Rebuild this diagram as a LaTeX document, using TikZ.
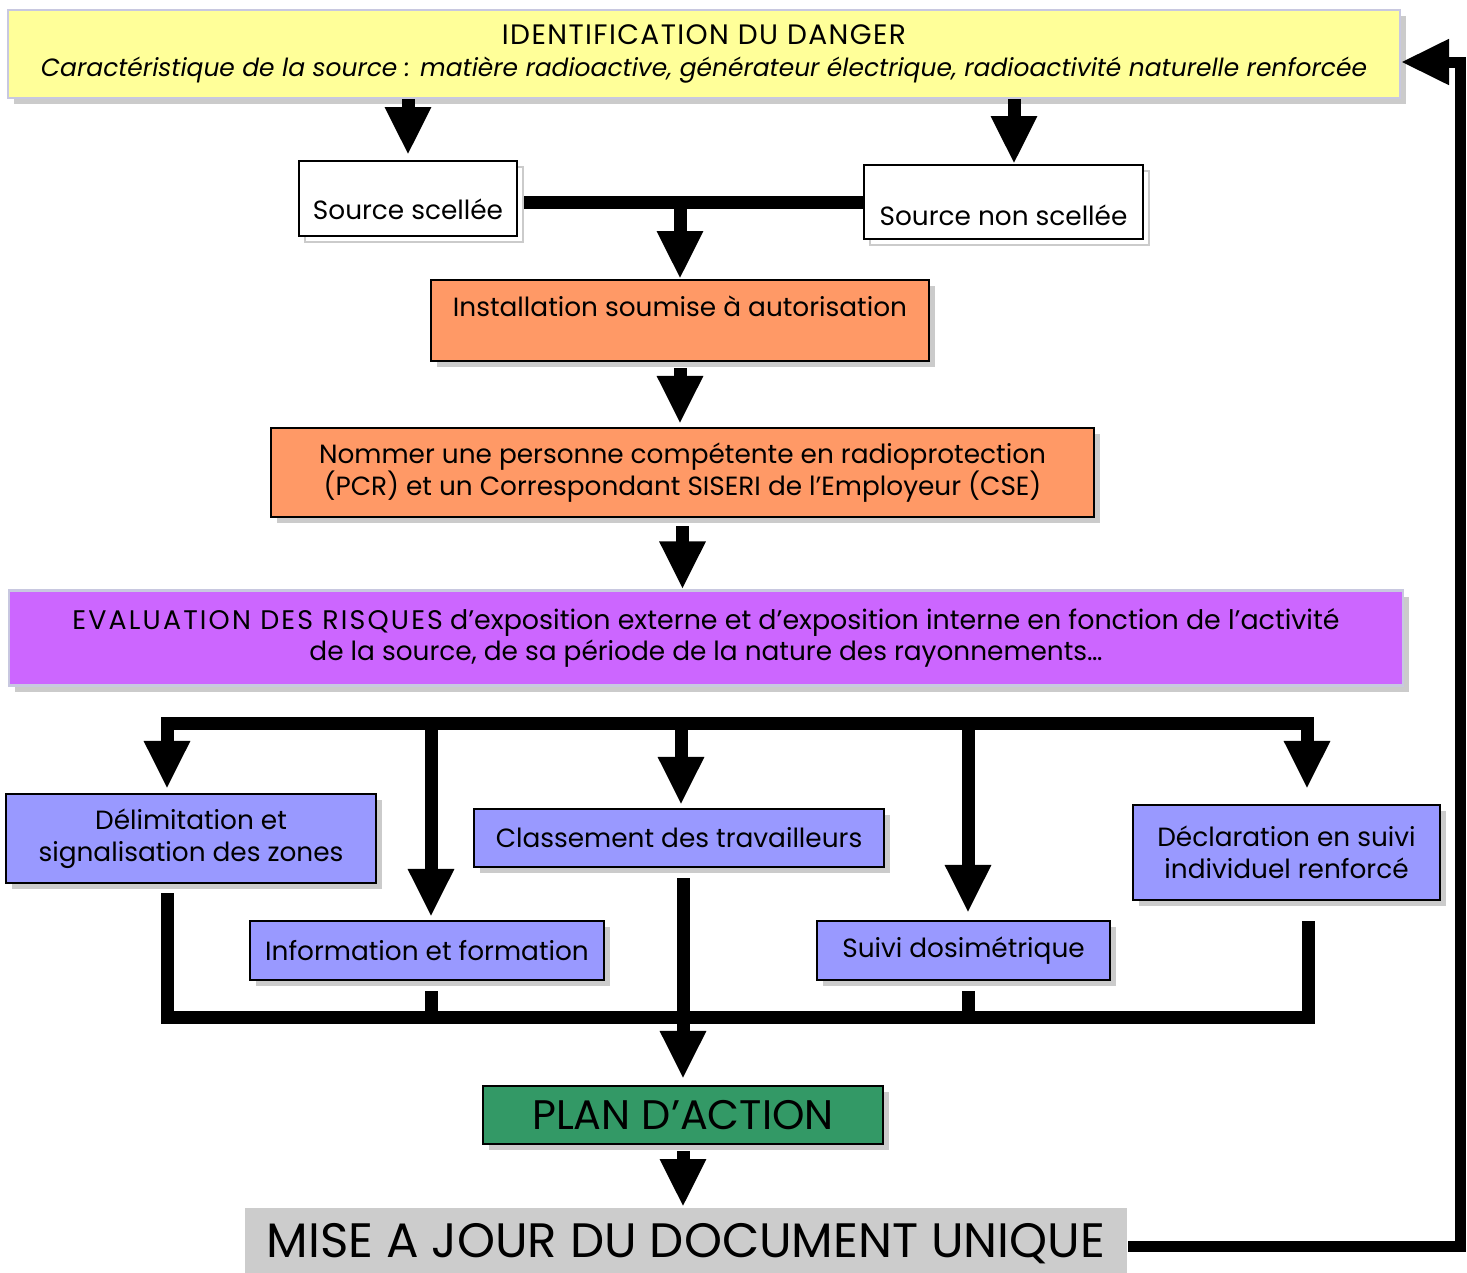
\documentclass[tikz,border=0pt]{standalone}
\usepackage{fontspec}
\setmainfont{Poppins}
\usetikzlibrary{positioning,arrows.meta,shadows}
\definecolor{yellowbox}{HTML}{FFFF99}
\definecolor{orangebox}{HTML}{FF9966}
\definecolor{purplebox}{HTML}{CC66FF}
\definecolor{bluebox}{HTML}{9999FF}
\definecolor{greenbox}{HTML}{339966}
\definecolor{graybox}{HTML}{CCCCCC}
\definecolor{framegray}{HTML}{C8C8E0}
\definecolor{shadowgray}{HTML}{CBCBCB}
\newcommand{\widecaps}[2][5]{{\addfontfeature{LetterSpace=#1}#2}}

\begin{document}
\begin{tikzpicture}[x=0.02cm, y=-0.02cm,
 box/.style={draw, line width=1.3pt, inner sep=0pt, align=center, font=\fontsize{15}{18}\selectfont},
 shade/.style={drop shadow={shadow xshift=0.12cm, shadow yshift=-0.12cm, fill=shadowgray, opacity=1}},
 ghost/.style={general shadow={shadow xshift=0.12cm, shadow yshift=-0.12cm, draw=shadowgray, line width=1pt, fill=white}},
 flow/.style={line width=0.26cm, -{Triangle[width=0.86cm, length=0.96cm]}},
 bus/.style={line width=0.26cm, line cap=rect},
 rise/.style={line width=0.26cm}]
 \useasboundingbox (0,0) rectangle (1467,1272);

 \node[box, fill=yellowbox, draw=framegray, shade, minimum width=27.84cm, minimum height=1.76cm] (danger) at (704,54)
 {\fontsize{16}{18}\selectfont\widecaps{IDENTIFICATION DU DANGER}\\\fontsize{14.2}{18}\selectfont\textit{Caractéristique de la source : matière radioactive, générateur électrique, radioactivité naturelle renforcée}};
 \node[box, fill=white, ghost, minimum width=4.36cm, text height=1.16cm, text depth=0.34cm, anchor=north] (scellee) at (408,160) {Source scellée};
 \node[box, fill=white, ghost, minimum width=5.58cm, text height=1.2cm, text depth=0.28cm, anchor=north] (nonscellee) at (1003.5,164) {Source non scellée};
 \node[box, fill=orangebox, shade, minimum width=9.96cm, text height=0.72cm, text depth=0.9cm, anchor=north] (install) at (680,279) {Installation soumise à autorisation};
 \node[box, fill=orangebox, shade, minimum width=16.46cm, minimum height=1.78cm] (nommer) at (682.5,472.5)
 {Nommer une personne compétente en radioprotection\\(PCR) et un Correspondant SISERI de l’Employeur (CSE)};
 \node[box, fill=purplebox, draw=framegray, shade, minimum width=27.88cm, minimum height=1.9cm] (risques) at (706,638)
 {{\fontsize{15.3}{18}\selectfont\widecaps[8]{EVALUATION DES RISQUES} d’exposition externe et d’exposition interne en fonction de l’activité}\\de la source, de sa période de la nature des rayonnements…};

 \node[box, fill=bluebox, shade, minimum width=7.4cm, minimum height=1.78cm] (delim) at (191,838.5) {Délimitation et\\signalisation des zones};
 \node[box, fill=bluebox, shade, minimum width=7.08cm, minimum height=1.18cm] (info) at (427,950.5) {Information et formation};
 \node[box, fill=bluebox, shade, minimum width=8.2cm, minimum height=1.16cm] (classe) at (679,838) {Classement des travailleurs};
 \node[box, fill=bluebox, shade, minimum width=5.86cm, minimum height=1.18cm] (suivi) at (963.5,950.5) {Suivi dosimétrique};
 \node[box, fill=bluebox, shade, minimum width=6.14cm, minimum height=1.9cm] (declar) at (1286.5,852.5) {Déclaration en suivi\\individuel renforcé};

 \node[box, fill=greenbox, shade, minimum width=8cm, minimum height=1.16cm, font=\fontsize{23.5}{26}\selectfont] (plan) at (683,1115) {PLAN D’ACTION};
 \node[box, draw=none, fill=graybox, minimum width=17.64cm, text height=0.98cm, text depth=0.32cm, font=\fontsize{27.5}{32}\selectfont, anchor=north] (maj) at (686,1207) {MISE A JOUR DU DOCUMENT UNIQUE};

 \coordinate (join) at (680,202);
 \coordinate (d1) at (167,723);
 \coordinate (d2) at (431,723);
 \coordinate (d3) at (681,723);
 \coordinate (d4) at (968,723);
 \coordinate (d5) at (1307,723);
 \coordinate (u1) at (167,1017);
 \coordinate (u2) at (431,1017);
 \coordinate (u3) at (683,1017);
 \coordinate (u4) at (968,1017);
 \coordinate (u5) at (1308,1017);
 \coordinate (back) at (1460,1246);

 \draw[flow, shorten >=0.1cm] (danger.south -| scellee.north) -- (scellee.north);
 \draw[flow] ([xshift=0.21cm]danger.south -| nonscellee.north) -- ([xshift=0.21cm]nonscellee.north);
 \draw[rise, shorten <=0.12cm] (scellee.east |- join) -- (nonscellee.west |- join);
 \draw[flow] (join) -- (install.north);
 \draw[flow, shorten <=0.12cm, shorten >=0.06cm] (install.south) -- (nommer.north -| install.south);
 \draw[flow, shorten <=0.16cm] (nommer.south) -- (risques.north -| nommer.south);

 \draw[bus] (d1) -- (d5);
 \draw[flow, shorten >=0.08cm] (d1) -- (d1 |- delim.north);
 \draw[flow, shorten >=0.06cm] (d2) -- (d2 |- info.north);
 \draw[flow, shorten >=0.06cm] (d3) -- (d3 |- classe.north);
 \draw[flow, shorten >=0.14cm] (d4) -- (d4 |- suivi.north);
 \draw[flow, shorten >=0.3cm] (d5) -- (d5 |- declar.north);

 \draw[bus] (u1) -- (u5);
 \draw[rise, shorten <=0.18cm] (delim.south -| u1) -- (u1);
 \draw[rise, shorten <=0.2cm] (info.south -| u2) -- (u2);
 \draw[flow, shorten <=0.2cm, shorten >=0.12cm] (classe.south -| u3) -- (plan.north -| u3);
 \draw[rise, shorten <=0.2cm] (suivi.south -| u4) -- (u4);
 \draw[rise, shorten <=0.4cm] (declar.south -| u5) -- (u5);

 \draw[flow, shorten <=0.12cm] (plan.south) -- (maj.north -| plan.south);
 \draw[flow, line width=0.22cm] (maj.east |- back) -- (back) |- ([yshift=-0.16cm]danger.east);
\end{tikzpicture}
\end{document}
